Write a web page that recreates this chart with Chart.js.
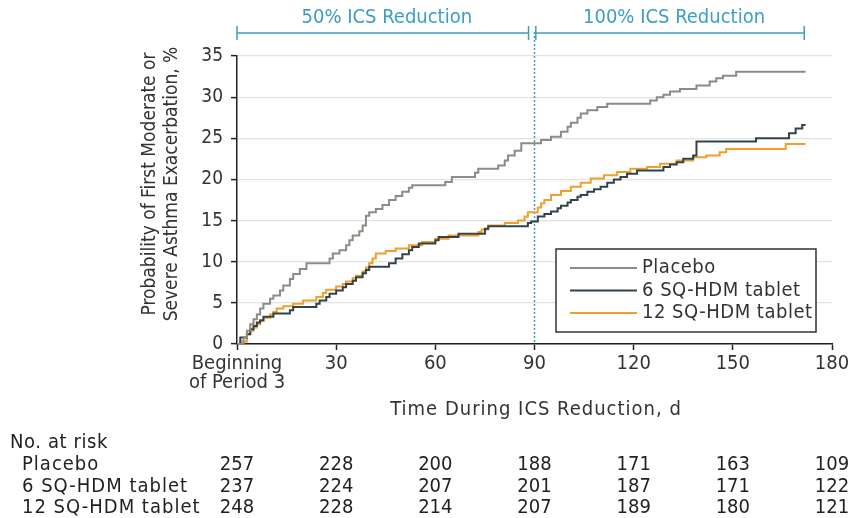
<!DOCTYPE html>
<html>
<head>
<meta charset="utf-8">
<script src="https://cdn.jsdelivr.net/npm/chart.js@4.4.1/dist/chart.umd.min.js"></script>
<style>
  html, body { margin: 0; padding: 0; background: #fff; }
</style>
</head>
<body>
<canvas id="kmChart" width="851" height="518"></canvas>
<script>
// days / cumulative probability (%)
const placeboDays = [0, 2, 3, 4, 5, 6, 7, 8, 10, 11, 13, 14, 16, 17, 19, 21, 28, 29, 31, 33, 34, 35, 37, 38, 39, 40, 42, 44, 46, 48, 50, 52, 53, 63, 65, 72, 73, 79, 81, 82, 84, 86, 92, 95, 98, 100, 101, 103, 104, 106, 109, 112, 125, 127, 129, 131, 134, 139, 143, 145, 147, 151, 172];
const placeboPct = [0, 0.8, 1.6, 2.4, 3.0, 3.6, 4.3, 4.9, 5.5, 5.9, 6.5, 7.1, 7.9, 8.5, 9.1, 9.8, 10.4, 11.0, 11.4, 12.0, 12.6, 13.2, 13.7, 14.4, 15.6, 16.0, 16.4, 16.9, 17.5, 18.0, 18.5, 19.0, 19.3, 19.7, 20.3, 20.8, 21.3, 21.7, 22.3, 22.9, 23.5, 24.4, 24.8, 25.2, 25.8, 26.4, 26.9, 27.5, 28.0, 28.4, 28.8, 29.2, 29.6, 30.0, 30.3, 30.7, 31.0, 31.4, 31.9, 32.3, 32.6, 33.1, 33.1];

const sq6Days = [0, 1, 3, 4, 5, 6, 7, 8, 11, 16, 17, 24, 25, 27, 28, 30, 32, 33, 35, 36, 38, 39, 40, 46, 48, 50, 52, 53, 55, 60, 61, 67, 75, 76, 88, 89, 91, 93, 95, 97, 98, 100, 101, 103, 104, 106, 108, 110, 112, 114, 116, 118, 121, 129, 131, 133, 135, 138, 139, 157, 167, 169, 171, 172];
const sq6Pct = [0, 0.8, 1.2, 1.8, 2.2, 2.6, 2.9, 3.3, 3.7, 4.1, 4.5, 4.9, 5.3, 5.7, 6.1, 6.5, 6.9, 7.3, 7.7, 8.1, 8.6, 9.0, 9.4, 9.8, 10.4, 10.9, 11.4, 11.8, 12.2, 12.6, 13.0, 13.4, 14.0, 14.3, 14.7, 14.9, 15.5, 15.8, 16.1, 16.5, 16.8, 17.2, 17.5, 17.9, 18.1, 18.5, 18.8, 19.1, 19.6, 20.0, 20.3, 20.7, 21.1, 21.5, 21.8, 22.1, 22.5, 22.9, 24.6, 25.0, 25.6, 26.2, 26.6, 26.6];

const sq12Days = [0, 1, 3, 4, 5, 6, 7, 8, 10, 11, 12, 14, 17, 20, 24, 26, 27, 30, 32, 33, 35, 36, 38, 39, 40, 41, 42, 45, 48, 52, 56, 60, 64, 73, 74, 76, 81, 85, 87, 88, 91, 92, 93, 95, 98, 101, 104, 107, 111, 115, 119, 124, 128, 133, 138, 142, 146, 148, 166, 172];
const sq12Pct = [0, 0.3, 1.2, 1.6, 2.0, 2.4, 2.8, 3.2, 3.6, 3.9, 4.3, 4.6, 4.9, 5.3, 5.7, 6.2, 6.6, 7.0, 7.3, 7.6, 8.0, 8.3, 8.8, 9.3, 9.8, 10.4, 11.0, 11.3, 11.6, 12.0, 12.4, 12.8, 13.2, 13.6, 13.9, 14.4, 14.7, 15.0, 15.5, 16.0, 16.6, 17.1, 17.5, 18.1, 18.6, 19.1, 19.6, 20.1, 20.5, 20.9, 21.3, 21.5, 21.9, 22.3, 22.7, 22.9, 23.3, 23.7, 24.3, 24.3];

// number at risk table
const riskDays = [0, 30, 60, 90, 120, 150, 180];
const riskGroups = ['Placebo', '6 SQ-HDM tablet', '12 SQ-HDM tablet'];
const riskPlacebo = [257, 228, 200, 188, 171, 163, 109];
const risk6 = [237, 224, 207, 201, 187, 171, 122];
const risk12 = [248, 228, 214, 207, 189, 180, 121];

const FONT = "'DejaVu Sans Condensed', 'Liberation Sans Narrow', sans-serif";
const BLUE = '#3c9ec6';
const TXT = '#333333';

function toPoints(days, pct) {
    return days.map((d, i) => ({ x: d, y: pct[i] }));
}

const extras = {
    id: 'extras',
    beforeDatasetsDraw(chart) {
        const ctx = chart.ctx;
        const xs = chart.scales.x;
        const area = chart.chartArea;
        // dotted line at day 90
        const x90 = xs.getPixelForValue(90);
        ctx.save();
        ctx.strokeStyle = BLUE;
        ctx.lineWidth = 1.5;
        ctx.setLineDash([2, 2]);
        ctx.beginPath();
        ctx.moveTo(x90, 32);
        ctx.lineTo(x90, area.bottom);
        ctx.stroke();
        ctx.restore();
    },
    afterDraw(chart) {
        const ctx = chart.ctx;
        const xs = chart.scales.x;
        ctx.save();

        // phase brackets
        const brackets = [
            [0, 88.2, '50% ICS Reduction'],
            [90.4, 171.6, '100% ICS Reduction']
        ];
        ctx.strokeStyle = BLUE;
        ctx.fillStyle = BLUE;
        ctx.lineWidth = 1.5;
        ctx.font = '20px ' + FONT;
        ctx.textAlign = 'center';
        ctx.textBaseline = 'middle';
        brackets.forEach(b => {
            const a = xs.getPixelForValue(b[0]);
            const e = xs.getPixelForValue(b[1]);
            ctx.beginPath();
            ctx.moveTo(a, 33); ctx.lineTo(e, 33);
            ctx.moveTo(a, 26); ctx.lineTo(a, 40);
            ctx.moveTo(e, 26); ctx.lineTo(e, 40);
            ctx.stroke();
            ctx.fillText(b[2], (a + e) / 2 + 4, 18);
        });

        // y title
        ctx.fillStyle = TXT;
        ctx.font = '19px ' + FONT;
        ctx.save();
        ctx.translate(150, 184);
        ctx.rotate(-Math.PI / 2);
        ctx.fillText('Probability of First Moderate or', 0, 0);
        ctx.fillText('Severe Asthma Exacerbation, %', 0, 22);
        ctx.restore();

        // x title
        ctx.font = '20px ' + FONT;
        ctx.letterSpacing = '1px';
        ctx.fillText('Time During ICS Reduction, d', 536, 410);

        // legend box
        const lx = 556, ly = 249, lw = 260, lh = 83;
        ctx.letterSpacing = '0.5px';
        ctx.fillStyle = '#ffffff';
        ctx.fillRect(lx, ly, lw, lh);
        ctx.strokeStyle = '#333333';
        ctx.lineWidth = 1.5;
        ctx.strokeRect(lx, ly, lw, lh);
        ctx.textAlign = 'left';
        ctx.font = '20px ' + FONT;
        chart.data.datasets.forEach((ds, i) => {
            const yy = ly + 19 + i * 22.5;
            ctx.strokeStyle = ds.borderColor;
            ctx.lineWidth = 2;
            ctx.beginPath();
            ctx.moveTo(lx + 14, yy);
            ctx.lineTo(lx + 81, yy);
            ctx.stroke();
            ctx.fillStyle = TXT;
            ctx.fillText(ds.label, lx + 86, yy);
        });

        // number at risk
        ctx.font = '20px ' + FONT;
        ctx.fillStyle = '#222222';
        ctx.textAlign = 'left';
        ctx.letterSpacing = '0.6px';
        ctx.fillText('No. at risk', 10, 443);
        const rows = [riskPlacebo, risk6, risk12];
        rows.forEach((row, r) => {
            const yy = 465 + r * 21.3;
            ctx.textAlign = 'left';
            ctx.letterSpacing = '1px';
            ctx.fillText(riskGroups[r], 22, yy);
            ctx.textAlign = 'center';
            ctx.letterSpacing = '0px';
            row.forEach((n, c) => {
                ctx.fillText(String(n), xs.getPixelForValue(riskDays[c]), yy);
            });
        });
        ctx.restore();
    }
};

const ctx = document.getElementById('kmChart').getContext('2d');
const kmChart = new Chart(ctx, {
    type: 'line',
    data: {
        datasets: [
            {
                label: 'Placebo',
                data: toPoints(placeboDays, placeboPct),
                borderColor: '#8e8a84',
                borderWidth: 2,
                stepped: true,
                pointRadius: 0,
                fill: false
            },
            {
                label: '6 SQ-HDM tablet',
                data: toPoints(sq6Days, sq6Pct),
                borderColor: '#33434b',
                borderWidth: 2,
                stepped: true,
                pointRadius: 0,
                fill: false
            },
            {
                label: '12 SQ-HDM tablet',
                data: toPoints(sq12Days, sq12Pct),
                borderColor: '#f0a02a',
                borderWidth: 2,
                stepped: true,
                pointRadius: 0,
                fill: false
            }
        ]
    },
    options: {
        responsive: false,
        animation: false,
        devicePixelRatio: 1,
        layout: { padding: { left: 0, right: 19, top: 56, bottom: 0 } },
        plugins: {
            legend: { display: false },
            tooltip: { enabled: false }
        },
        scales: {
            x: {
                type: 'linear',
                min: 0,
                max: 180,
                afterFit: s => { s.height = 174; s.paddingLeft = 0; s.paddingRight = 0; },
                afterBuildTicks: s => { s.ticks = riskDays.map(v => ({ value: v })); },
                grid: { drawOnChartArea: false, tickLength: 6, tickColor: '#222', tickWidth: 1.5 },
                border: { color: '#222', width: 1.5 },
                ticks: {
                    autoSkip: false,
                    maxRotation: 0,
                    padding: 4,
                    color: TXT,
                    font: { family: FONT, size: 20, lineHeight: 0.95 },
                    callback: v => v === 0 ? ['Beginning', 'of Period 3'] : String(v)
                }
            },
            y: {
                min: 0,
                max: 35,
                afterFit: s => { s.width = 237; },
                grid: { color: '#e2e2e2', lineWidth: 1.2, tickLength: 6, tickColor: '#222', tickWidth: 1.5 },
                border: { color: '#222', width: 1.5 },
                ticks: {
                    stepSize: 5,
                    padding: 8,
                    color: TXT,
                    font: { family: FONT, size: 19 }
                }
            }
        }
    },
    plugins: [extras]
});
</script>
</body>
</html>
